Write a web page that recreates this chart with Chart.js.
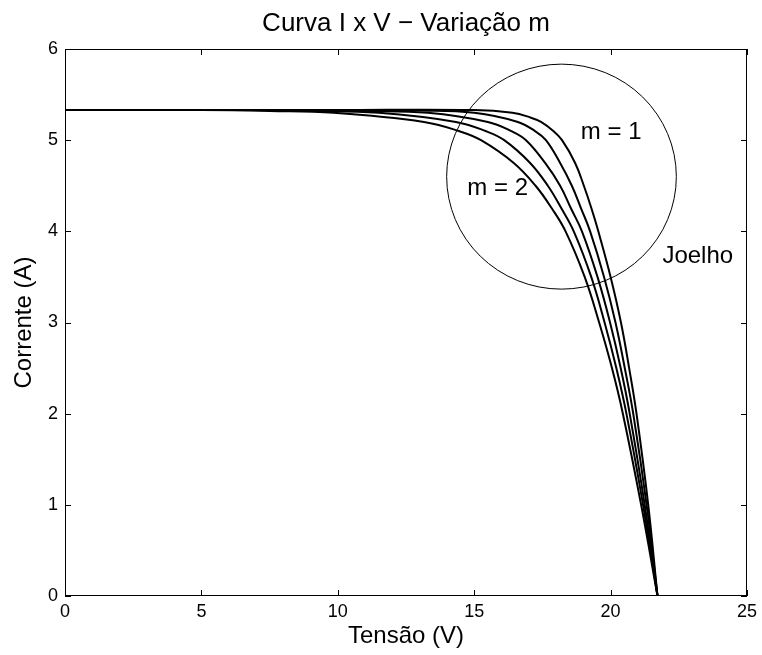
<!DOCTYPE html>
<html lang="pt">

<head>
  <meta charset="UTF-8">
  <title>Curva I x V - Variação m</title>
  <script src="https://cdn.jsdelivr.net/npm/chart.js"></script>
  <style>
    html, body { margin: 0; padding: 0; background: #fff; }
  </style>
</head>

<body>
  <canvas id="curvaIV" width="762" height="655"></canvas>

  <script>
    // Curvas I x V (tensão em V, corrente em A)
    const tensaoM1 = [0, 10, 15, 16.4, 17.05, 17.45, 17.9, 18.22, 18.7, 19.02, 19.3, 19.55, 20.0, 20.38, 20.68, 20.95, 21.38, 21.72];
    const correnteM1 = [5.33, 5.33, 5.33, 5.3, 5.25, 5.2, 5.1, 5.0, 4.75, 4.5, 4.25, 4.0, 3.5, 3.0, 2.5, 2.0, 1.0, 0];

    const tensaoM125 = [0, 10, 13, 15.0, 16.6, 17.23, 17.63, 18.15, 18.58, 18.92, 19.25, 19.76, 20.18, 20.52, 20.83, 21.32, 21.72];
    const correnteM125 = [5.33, 5.33, 5.325, 5.3, 5.2, 5.1, 5.0, 4.75, 4.5, 4.25, 4.0, 3.5, 3.0, 2.5, 2.0, 1.0, 0];

    const tensaoM15 = [0, 8, 11, 13.3, 15.5, 16.36, 16.9, 17.6, 18.15, 18.55, 18.95, 19.52, 19.98, 20.37, 20.7, 21.25, 21.72];
    const correnteM15 = [5.33, 5.33, 5.32, 5.3, 5.2, 5.1, 5.0, 4.75, 4.5, 4.25, 4.0, 3.5, 3.0, 2.5, 2.0, 1.0, 0];

    const tensaoM175 = [0, 6, 9, 11.5, 14.33, 15.42, 16.1, 17.05, 17.7, 18.2, 18.65, 19.29, 19.78, 20.21, 20.58, 21.19, 21.72];
    const correnteM175 = [5.33, 5.33, 5.32, 5.3, 5.2, 5.1, 5.0, 4.75, 4.5, 4.25, 4.0, 3.5, 3.0, 2.5, 2.0, 1.0, 0];

    const tensaoM2 = [0, 5, 7.5, 9.85, 13.16, 14.44, 15.25, 16.45, 17.25, 17.85, 18.35, 19.05, 19.58, 20.05, 20.45, 21.12, 21.72];
    const correnteM2 = [5.33, 5.33, 5.32, 5.3, 5.2, 5.1, 5.0, 4.75, 4.5, 4.25, 4.0, 3.5, 3.0, 2.5, 2.0, 1.0, 0];

    const ticksTensao = [0, 5, 10, 15, 20, 25];
    const ticksCorrente = [0, 1, 2, 3, 4, 5, 6];

    // Círculo do "joelho" (centro e raios em unidades dos eixos)
    const joelhoCentro = [18.2, 4.6];
    const joelhoRaio = [4.21, 1.234];

    // Anotações: texto, tensão, corrente (alinhadas à esquerda)
    const anotacoes = [
      ["m = 1", 18.91, 5.08],
      ["m = 2", 14.75, 4.47],
      ["Joelho", 21.9, 3.72]
    ];

    const fonte = "'Liberation Sans', Arial, Helvetica, sans-serif";

    function pontos(tensao, corrente) {
      return tensao.map((v, i) => ({ x: v, y: corrente[i] }));
    }

    function serie(tensao, corrente) {
      return {
        data: pontos(tensao, corrente),
        borderColor: "#000",
        borderWidth: 2,
        pointRadius: 0,
        fill: false,
        tension: 0.4
      };
    }

    // Moldura estilo MATLAB: caixa, marcas internas, círculo e textos
    const molduraMatlab = {
      id: "molduraMatlab",
      afterDatasetsDraw(chart) {
        const { ctx, chartArea: a, scales: { x, y } } = chart;
        ctx.save();
        ctx.strokeStyle = "#000";
        ctx.lineWidth = 1;

        // círculo do joelho
        const cx = x.getPixelForValue(joelhoCentro[0]);
        const cy = y.getPixelForValue(joelhoCentro[1]);
        const rx = x.getPixelForValue(joelhoCentro[0] + joelhoRaio[0]) - cx;
        const ry = cy - y.getPixelForValue(joelhoCentro[1] + joelhoRaio[1]);
        ctx.beginPath();
        ctx.ellipse(cx, cy, rx, ry, 0, 0, 2 * Math.PI);
        ctx.stroke();

        // caixa
        ctx.strokeRect(a.left + 0.5, a.top + 0.5, a.width - 1, a.height - 1);

        // marcas dos eixos, para dentro
        const tam = 6;
        ctx.beginPath();
        ticksTensao.forEach(v => {
          const px = Math.round(x.getPixelForValue(v)) + 0.5;
          ctx.moveTo(px, a.bottom); ctx.lineTo(px, a.bottom - tam);
          ctx.moveTo(px, a.top); ctx.lineTo(px, a.top + tam);
        });
        ticksCorrente.forEach(v => {
          const py = Math.round(y.getPixelForValue(v)) + 0.5;
          ctx.moveTo(a.left, py); ctx.lineTo(a.left + tam, py);
          ctx.moveTo(a.right, py); ctx.lineTo(a.right - tam, py);
        });
        ctx.stroke();

        // textos
        ctx.fillStyle = "#000";
        ctx.font = "24px " + fonte;
        ctx.textBaseline = "middle";
        ctx.textAlign = "left";
        anotacoes.forEach(([t, v, i]) => {
          ctx.fillText(t, x.getPixelForValue(v), y.getPixelForValue(i));
        });

        ctx.textAlign = "center";
        ctx.font = "26px " + fonte;
        ctx.fillText("Curva I x V \u2212 Variação m", (a.left + a.right) / 2, 24);
        ctx.restore();
      }
    };

    new Chart(document.getElementById("curvaIV").getContext("2d"), {
      type: "line",
      data: {
        datasets: [
          serie(tensaoM1, correnteM1),
          serie(tensaoM125, correnteM125),
          serie(tensaoM15, correnteM15),
          serie(tensaoM175, correnteM175),
          serie(tensaoM2, correnteM2)
        ]
      },
      options: {
        responsive: false,
        animation: false,
        devicePixelRatio: 1,
        layout: { padding: { top: 49, right: 14, left: 0, bottom: 0 } },
        plugins: { legend: { display: false }, tooltip: { enabled: false } },
        scales: {
          x: {
            type: "linear",
            min: 0,
            max: 25,
            afterBuildTicks(s) { s.ticks = ticksTensao.map(v => ({ value: v })); },
            afterFit(s) { s.height = 59; },
            grid: { display: false, drawTicks: false },
            border: { display: false },
            ticks: { color: "#000", padding: 5, maxRotation: 0, font: { size: 18, family: fonte } },
            title: {
              display: true, text: "Tensão (V)", color: "#000",
              font: { size: 24, family: fonte }, padding: { top: 0, bottom: 4 }
            }
          },
          y: {
            type: "linear",
            min: 0,
            max: 6,
            afterBuildTicks(s) { s.ticks = ticksCorrente.map(v => ({ value: v })); },
            afterFit(s) { s.width = 65; },
            grid: { display: false, drawTicks: false },
            border: { display: false },
            ticks: { color: "#000", padding: 7, font: { size: 18, family: fonte } },
            title: {
              display: true, text: "Corrente (A)", color: "#000",
              font: { size: 24, family: fonte }, padding: { top: 10, bottom: 0 }
            }
          }
        }
      },
      plugins: [molduraMatlab]
    });
  </script>
</body>

</html>
